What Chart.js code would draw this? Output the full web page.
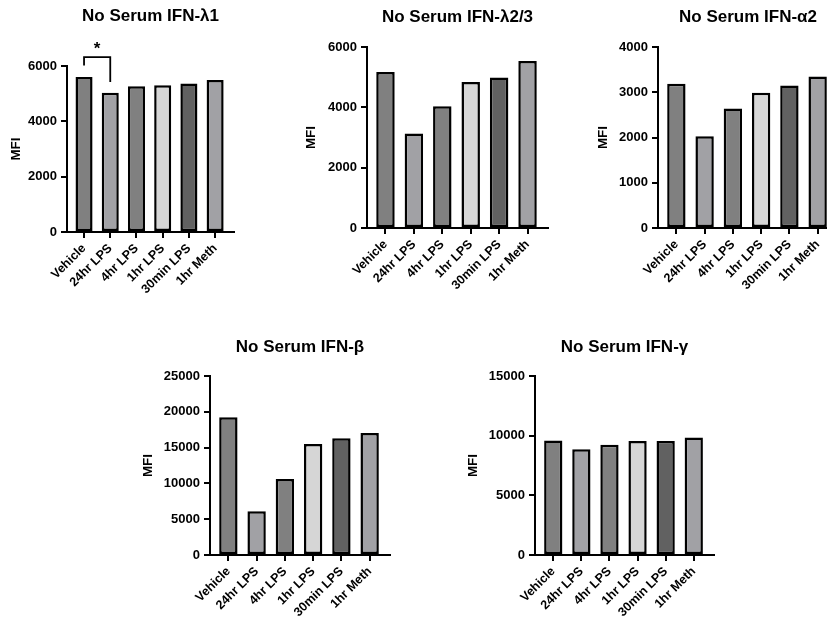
<!DOCTYPE html>
<html>
<head>
<meta charset="utf-8">
<script src="https://cdn.jsdelivr.net/npm/chart.js@4"></script>
<style>
  html, body { margin: 0; padding: 0; background: #fff; }
  #page { position: relative; width: 827px; height: 623px; overflow: hidden; background: #fff; }
  #page canvas { position: absolute; }
</style>
</head>
<body>
<div id="page">
  <canvas id="lambda1"></canvas>
  <canvas id="lambda23"></canvas>
  <canvas id="alpha2"></canvas>
  <canvas id="beta"></canvas>
  <canvas id="gamma"></canvas>
</div>
<script>
// groups + bar fills (same order in every panel)
const groups = ['Vehicle', '24hr LPS', '4hr LPS', '1hr LPS', '30min LPS', '1hr Meth'];
const barColors = ['#808080', '#a1a1a5', '#808080', '#d6d6d6', '#616161', '#a1a1a5'];

// MFI values
const ifnL1 = [5600, 5030, 5270, 5300, 5370, 5490];
const ifnL23 = [5170, 3130, 4040, 4840, 4990, 5540];
const ifnA2 = [3190, 2030, 2640, 2990, 3150, 3350];
const ifnB = [19250, 6100, 10600, 15500, 16300, 17050];
const ifnG = [9600, 8870, 9230, 9560, 9550, 9840];

// y tick labels
const ticksL1 = [0, 2000, 4000, 6000];
const ticksL23 = [0, 2000, 4000, 6000];
const ticksA2 = [0, 1000, 2000, 3000, 4000];
const ticksB = [0, 5000, 10000, 15000, 20000, 25000];
const ticksG = [0, 5000, 10000, 15000];

// significance bracket on IFN-λ1 (Vehicle vs 24hr LPS)
const sigL1 = { from: 0, to: 1, leftEnd: 6020, top: 6320, rightEnd: 5420, label: '*' };

const FONT = "'Liberation Sans', Arial, Helvetica, sans-serif";
const AXIS_W = 70;     // room left of the plot for ticks + MFI
const X_H = 78;        // room under the plot for rotated labels
const TITLE_SIZE = 17;
const TITLE_LH = TITLE_SIZE * 1.2;
const MFI_SIZE = 13.5;
const MFI_LH = MFI_SIZE * 1.2;

Chart.defaults.font.family = FONT;
Chart.defaults.color = '#000';

const bracketPlugin = {
    id: 'bracket',
    afterDatasetsDraw(chart) {
        const { ctx, scales: { x, y } } = chart;
        const x0 = x.getPixelForValue(sigL1.from);
        const x1 = x.getPixelForValue(sigL1.to);
        const yTop = y.getPixelForValue(sigL1.top);
        ctx.save();
        ctx.strokeStyle = '#000';
        ctx.lineWidth = 1.8;
        ctx.beginPath();
        ctx.moveTo(x0, y.getPixelForValue(sigL1.leftEnd));
        ctx.lineTo(x0, yTop);
        ctx.lineTo(x1, yTop);
        ctx.lineTo(x1, y.getPixelForValue(sigL1.rightEnd));
        ctx.stroke();
        ctx.fillStyle = '#000';
        ctx.font = 'bold 17px ' + FONT;
        ctx.textAlign = 'center';
        ctx.textBaseline = 'middle';
        ctx.fillText(sigL1.label, (x0 + x1) / 2, yTop - 8);
        ctx.restore();
    }
};

// box: l/r/t/b = plot area on the page, top = canvas top, titleY / mfiX = text centres
function drawPanel(id, title, values, yTicks, box, extra) {
    const canvas = document.getElementById(id);
    const w = box.r - box.l + AXIS_W + 20;
    const h = box.b - box.top + X_H + 4;
    canvas.width = w;
    canvas.height = h;
    canvas.style.width = w + 'px';
    canvas.style.height = h + 'px';
    canvas.style.left = (box.l - AXIS_W) + 'px';
    canvas.style.top = box.top + 'px';

    const padTop = box.titleY - box.top - TITLE_LH / 2;
    const padBottom = box.t - box.top - padTop - TITLE_LH;
    const mfiPad = box.mfiX - (box.l - AXIS_W) - MFI_LH / 2;

    return new Chart(canvas, {
        type: 'bar',
        data: {
            datasets: [{
                data: values.map((v, i) => ({ x: i, y: v })),
                backgroundColor: barColors,
                borderColor: '#000',
                borderWidth: 2.5,
                borderSkipped: false,
                categoryPercentage: 1,
                barPercentage: 0.65
            }]
        },
        options: {
            responsive: false,
            devicePixelRatio: 1,
            animation: false,
            layout: { padding: { left: 0, right: 20, top: 0, bottom: 4 } },
            plugins: {
                legend: { display: false },
                tooltip: { enabled: false },
                title: {
                    display: true,
                    fullSize: false,
                    text: title,
                    color: '#000',
                    font: { size: TITLE_SIZE, weight: 'bold' },
                    padding: { top: padTop, bottom: padBottom }
                }
            },
            scales: {
                x: {
                    type: 'linear',
                    min: -0.65,
                    max: 5.72,
                    offset: false,
                    grid: { offset: false, drawOnChartArea: false, drawTicks: true, tickLength: 6, lineWidth: 2, color: '#000' },
                    border: { display: true, color: '#000', width: 2 },
                    ticks: {
                        autoSkip: false,
                        minRotation: 45,
                        maxRotation: 45,
                        padding: 3,
                        color: '#000',
                        font: { size: 12.5, weight: 'bold' },
                        callback: v => groups[v]
                    },
                    afterBuildTicks: s => { s.ticks = groups.map((g, i) => ({ value: i })); },
                    afterFit: s => { s.height = X_H; }
                },
                y: {
                    min: 0,
                    max: yTicks[yTicks.length - 1],
                    grid: { drawOnChartArea: false, drawTicks: true, tickLength: 6, lineWidth: 2, color: '#000' },
                    border: { display: true, color: '#000', width: 2 },
                    ticks: {
                        padding: 4,
                        color: '#000',
                        font: { size: 13, weight: 'bold' },
                        callback: v => String(v)
                    },
                    title: {
                        display: true,
                        text: 'MFI',
                        color: '#000',
                        font: { size: MFI_SIZE, weight: 'bold' },
                        padding: { top: mfiPad, bottom: 0 }
                    },
                    afterBuildTicks: s => { s.ticks = yTicks.map(v => ({ value: v })); },
                    afterFit: s => { s.width = AXIS_W; }
                }
            }
        },
        plugins: extra || []
    });
}

drawPanel('lambda1', 'No Serum IFN-\u03bb1', ifnL1, ticksL1,
    { l: 67, r: 234, t: 66, b: 232, top: 0, titleY: 16, mfiX: 16 }, [bracketPlugin]);
drawPanel('lambda23', 'No Serum IFN-\u03bb2/3', ifnL23, ticksL23,
    { l: 367, r: 548, t: 47, b: 228, top: 0, titleY: 17, mfiX: 311.7 });
drawPanel('alpha2', 'No Serum IFN-\u03b12', ifnA2, ticksA2,
    { l: 658, r: 838, t: 47, b: 228, top: 0, titleY: 17, mfiX: 603.3 });
drawPanel('beta', 'No Serum IFN-\u03b2', ifnB, ticksB,
    { l: 210, r: 390, t: 376, b: 555, top: 330, titleY: 347, mfiX: 148 });
drawPanel('gamma', 'No Serum IFN-\u03b3', ifnG, ticksG,
    { l: 535, r: 714, t: 376, b: 555, top: 330, titleY: 347.5, mfiX: 473.3 });
</script>
</body>
</html>
